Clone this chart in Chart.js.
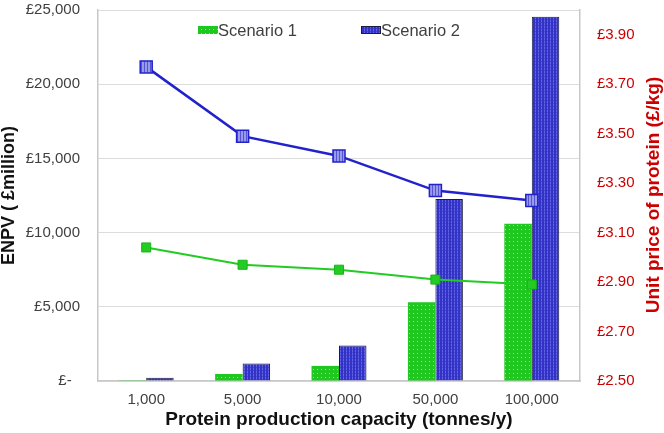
<!DOCTYPE html>
<html>
<head>
<meta charset="utf-8">
<script src="https://cdn.jsdelivr.net/npm/chart.js@4/dist/chart.umd.min.js"></script>
<style>
  html, body { margin: 0; padding: 0; background: #fff; }
  #wrap { width: 664px; height: 433px; }
</style>
</head>
<body>
<div id="wrap"><canvas id="c" width="664" height="433"></canvas></div>
<script>
// ---- data ----
const categories = ['1,000', '5,000', '10,000', '50,000', '100,000'];
const enpvScenario1 = [50, 470, 1020, 5300, 10600];
const enpvScenario2 = [220, 1180, 2400, 12270, 24550];
const priceScenario1 = [3.04, 2.97, 2.95, 2.91, 2.89];
const priceScenario2 = [3.77, 3.49, 3.41, 3.27, 3.23];
const enpvTicks = [0, 5000, 10000, 15000, 20000, 25000];
const priceTicks = [2.5, 2.7, 2.9, 3.1, 3.3, 3.5, 3.7, 3.9];
const seriesNames = ['Scenario 1', 'Scenario 2'];

const FONT = "'Liberation Sans', Arial, sans-serif";
const RED = '#cc0000';

// ---- patterns ----
function greenPattern() {
  const c = document.createElement('canvas');
  c.width = 4; c.height = 4;
  const g = c.getContext('2d');
  g.fillStyle = '#1ec81e'; g.fillRect(0, 0, 4, 4);
  g.fillStyle = '#8ee88e'; g.fillRect(1, 1, 1, 1);
  return g.createPattern(c, 'repeat');
}
function bluePattern() {
  const c = document.createElement('canvas');
  c.width = 3; c.height = 3;
  const g = c.getContext('2d');
  g.fillStyle = '#3232c4'; g.fillRect(0, 0, 3, 3);
  g.fillStyle = '#6262e4'; g.fillRect(1, 0, 1, 3);
  g.fillStyle = '#4646d6'; g.fillRect(1, 1, 1, 1);
  return g.createPattern(c, 'repeat');
}
function markerPattern() {
  const c = document.createElement('canvas');
  c.width = 3; c.height = 3;
  const g = c.getContext('2d');
  g.fillStyle = '#9a9aea'; g.fillRect(0, 0, 3, 3);
  g.fillStyle = '#5656d2'; g.fillRect(0, 0, 1, 3);
  return g.createPattern(c, 'repeat');
}
const gPat = greenPattern();
const bPat = bluePattern();
const mPat = markerPattern();

// ---- custom plugin: legend + right axis title ----
const extras = {
  id: 'extras',
  afterDraw(chart) {
    const ctx = chart.ctx;
    ctx.save();
    // legend
    ctx.font = '16.5px ' + FONT;
    ctx.textBaseline = 'middle';
    ctx.textAlign = 'left';
    const items = [
      { x: 198, fill: gPat, stroke: null, text: seriesNames[0] },
      { x: 361, fill: bPat, stroke: '#1a1a3a', text: seriesNames[1] }
    ];
    items.forEach(it => {
      ctx.fillStyle = it.fill;
      ctx.fillRect(it.x, 26, 20, 8);
      if (it.stroke) {
        ctx.strokeStyle = it.stroke; ctx.lineWidth = 1;
        ctx.strokeRect(it.x + 0.5, 26.5, 19, 7);
      }
      ctx.fillStyle = '#404040';
      ctx.fillText(it.text, it.x + 20, 31);
    });
    // right axis title (reads bottom to top)
    ctx.translate(654, 195);
    ctx.rotate(-Math.PI / 2);
    ctx.textAlign = 'center';
    ctx.textBaseline = 'middle';
    ctx.font = 'bold 19px ' + FONT;
    ctx.fillStyle = RED;
    ctx.fillText('Unit price of protein (£/kg)', 0, 0);
    ctx.restore();
  }
};

new Chart(document.getElementById('c'), {
  type: 'bar',
  data: {
    labels: categories,
    datasets: [
      {
        type: 'line', label: seriesNames[0] + ' price', data: priceScenario1, yAxisID: 'y1', order: 0,
        borderColor: '#22cc22', borderWidth: 2, backgroundColor: '#22cc22',
        pointStyle: 'rect', pointRadius: 6.4, pointBackgroundColor: '#22cc22',
        pointBorderColor: '#18b418', pointBorderWidth: 1, tension: 0
      },
      {
        type: 'line', label: seriesNames[1] + ' price', data: priceScenario2, yAxisID: 'y1', order: 0,
        borderColor: '#2222cc', borderWidth: 2.5, backgroundColor: mPat,
        pointStyle: 'rect', pointRadius: 8.5, pointBackgroundColor: mPat,
        pointBorderColor: '#2222cc', pointBorderWidth: 1.5, tension: 0
      },
      {
        label: seriesNames[0], data: enpvScenario1, yAxisID: 'y', order: 1,
        backgroundColor: gPat, borderWidth: 0,
        categoryPercentage: 0.57, barPercentage: 1.0
      },
      {
        label: seriesNames[1], data: enpvScenario2, yAxisID: 'y', order: 1,
        backgroundColor: bPat, borderColor: '#1a1a3a', borderWidth: 1,
        categoryPercentage: 0.57, barPercentage: 1.0
      }
    ]
  },
  options: {
    responsive: false,
    animation: false,
    devicePixelRatio: 1,
    layout: { padding: { top: 7, left: 0, right: 0, bottom: 0 } },
    plugins: {
      legend: { display: false },
      tooltip: { enabled: false }
    },
    scales: {
      x: {
        grid: { display: false, drawTicks: false },
        border: { color: '#c8c8c8', width: 1.5 },
        ticks: { color: '#404040', font: { family: FONT, size: 15 }, padding: 10, maxRotation: 0 },
        title: {
          display: true, text: 'Protein production capacity (tonnes/y)', color: '#111',
          font: { family: FONT, size: 19, weight: 'bold' }, padding: { top: 0, bottom: 2 }
        },
        afterFit(s) { s.height = 52; s.paddingLeft = 0; s.paddingRight = 0; }
      },
      y: {
        position: 'left', min: 0, max: 25000,
        grid: { color: '#dcdcdc', lineWidth: 1, drawTicks: false },
        border: { color: '#c8c8c8', width: 1.5 },
        afterBuildTicks(s) { s.ticks = enpvTicks.map(v => ({ value: v })); },
        ticks: {
          color: '#404040', font: { family: FONT, size: 15 }, padding: 18,
          callback: v => v === 0 ? '£-  ' : '£' + v.toLocaleString('en-GB')
        },
        title: {
          display: true, text: 'ENPV ( £million)', color: '#111',
          font: { family: FONT, size: 18, weight: 'bold', lineHeight: 1 }, padding: { top: 0, bottom: 0 }
        },
        afterFit(s) { s.width = 98; s.paddingTop = 0; s.paddingBottom = 0; }
      },
      y1: {
        position: 'right', min: 2.5, max: 4.0,
        grid: { display: false, drawTicks: false },
        border: { color: '#c8c8c8', width: 1.5 },
        afterBuildTicks(s) { s.ticks = priceTicks.map(v => ({ value: v })); },
        ticks: {
          color: RED, font: { family: FONT, size: 15 }, padding: 17,
          callback: v => '£' + Number(v).toFixed(2)
        },
        afterFit(s) { s.width = 84; s.paddingTop = 0; s.paddingBottom = 0; }
      }
    }
  },
  plugins: [extras]
});
</script>
</body>
</html>
